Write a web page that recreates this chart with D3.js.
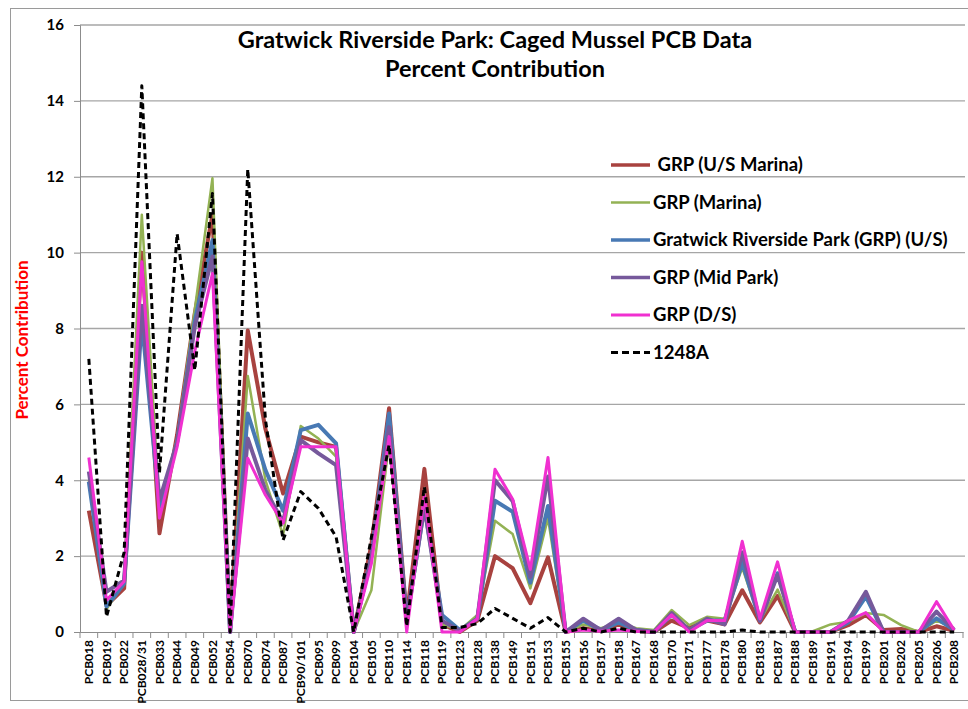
<!DOCTYPE html>
<html>
<head>
<meta charset="utf-8">
<script src="https://cdn.jsdelivr.net/npm/d3@7"></script>
<style>
  body { margin: 0; background: #fff; }
  text { font-family: Lato, "Liberation Sans", Arial, sans-serif; }
</style>
</head>
<body>
<svg></svg>
<script>
let width = 968, height = 709;

// congeners on the x axis
let pcbs = ["PCB018","PCB019","PCB022","PCB028/31","PCB033","PCB044","PCB049","PCB052","PCB054","PCB070",
    "PCB074","PCB087","PCB90/101","PCB095","PCB099","PCB104","PCB105","PCB110","PCB114","PCB118",
    "PCB119","PCB123","PCB128","PCB138","PCB149","PCB151","PCB153","PCB155","PCB156","PCB157",
    "PCB158","PCB167","PCB168","PCB170","PCB171","PCB177","PCB178","PCB180","PCB183","PCB187",
    "PCB188","PCB189","PCB191","PCB194","PCB199","PCB201","PCB202","PCB205","PCB206","PCB208"];

// percent contribution per station
let usMarina = [3.2,0.7,1.15,10.0,2.6,5.2,8.4,11.0,0.1,7.95,
    5.35,3.65,5.15,5.0,4.88,0,2.3,5.9,0.4,4.3,
    0.2,0,0.3,2.0,1.68,0.76,1.97,0,0.1,0.03,
    0.2,0.03,0,0.3,0.1,0.3,0.2,1.1,0.25,0.95,
    0,0,0,0.18,0.45,0.05,0.08,0,0.15,0.03];
let marina = [4.0,0.6,1.3,11.0,3.3,5.1,8.5,11.96,0,6.75,
    4.0,2.55,5.43,5.1,4.62,0,1.1,5.0,0.3,3.5,
    0.2,0.05,0.45,2.93,2.58,1.15,3.0,0,0.2,0.1,
    0.25,0.1,0.05,0.58,0.18,0.4,0.35,1.7,0.3,1.12,
    0,0.02,0.2,0.27,0.5,0.45,0.18,0,0.3,0.1];
let grpUS = [3.96,0.67,1.28,8.2,3.3,5.0,8.2,10.33,0,5.76,
    4.27,3.2,5.32,5.46,4.97,0,2.0,5.76,0.3,3.3,
    0.45,0.05,0.35,3.46,3.17,1.3,3.32,0,0.3,0.05,
    0.25,0.05,0,0.45,0.05,0.3,0.3,1.83,0.3,1.55,
    0,0,0,0.25,0.93,0,0,0,0.36,0.05];
let midPark = [4.23,1.06,1.36,8.6,3.48,5.0,8.05,9.9,0,5.1,
    3.74,2.9,5.06,4.71,4.4,0,2.0,5.4,0.3,3.3,
    0.3,0.03,0.35,4.0,3.45,1.45,4.1,0,0.35,0.05,
    0.35,0.05,0,0.5,0.05,0.35,0.2,2.1,0.3,1.5,
    0,0,0,0.3,1.06,0,0,0,0.54,0.05];
let ds = [4.6,0.84,1.33,9.76,3.0,4.88,7.4,9.45,0,4.58,
    3.61,2.87,4.88,4.88,4.88,0,1.8,5.15,0,3.6,
    0,0,0.35,4.29,3.5,1.65,4.6,0,0.05,0.02,
    0.05,0.02,0,0.45,0,0.3,0.3,2.39,0.35,1.85,
    0,0,0,0.3,0.51,0,0,0,0.8,0.05];
let aroclor1248 = [7.2,0.4,2.1,14.4,4.2,10.5,6.9,11.56,0,12.2,
    5.6,2.42,3.7,3.26,2.51,0,2.5,4.93,0.15,3.83,
    0.12,0.12,0.22,0.62,0.36,0.1,0.38,0,0.1,0,
    0.1,0,0,0,0,0,0,0.05,0,0,
    0,0,0,0,0,0,0,0,0,0];

let yTicks = [0,2,4,6,8,10,12,14,16];

let series = [
    {name: " GRP (U/S Marina)", values: usMarina, color: "#A8423F", width: 4},
    {name: "GRP (Marina)", values: marina, color: "#93B254", width: 2.5},
    {name: "Gratwick Riverside Park (GRP) (U/S)", values: grpUS, color: "#4879B4", width: 4},
    {name: "GRP (Mid Park)", values: midPark, color: "#76599B", width: 4},
    {name: "GRP (D/S)", values: ds, color: "#F030D0", width: 3},
    {name: "1248A", values: aroclor1248, color: "#000", width: 3, dash: "6,4"}
];

let svg = d3.select("svg")
    .attr("width", width)
    .attr("height", height);

// chart frame
svg.append("rect")
    .attr("x", 10.5).attr("y", 8.5)
    .attr("width", 970).attr("height", 692)
    .attr("fill", "none")
    .attr("stroke", "#9a9a9a");

let plot = {left: 80, right: 963, top: 25, bottom: 632};

let x = d3.scaleBand()
    .domain(pcbs)
    .range([plot.left, plot.right]);

let y = d3.scaleLinear()
    .domain([0, 16])
    .range([plot.bottom, plot.top]);

// gridlines
svg.append("g")
    .selectAll("line")
    .data(yTicks.filter(d => d > 0))
    .enter()
    .append("line")
    .attr("x1", plot.left).attr("x2", plot.right + 2)
    .attr("y1", d => y(d)).attr("y2", d => y(d))
    .attr("stroke", "#a6a6a6")
    .attr("stroke-width", 1.3);

// y axis
let yAxis = svg.append("g")
    .attr("transform", "translate(" + plot.left + ",0)")
    .call(d3.axisLeft(y).tickValues(yTicks).tickSize(6).tickPadding(10));
yAxis.select(".domain").attr("stroke", "#8c8c8c");
yAxis.selectAll(".tick line").attr("stroke", "#8c8c8c");
yAxis.selectAll(".tick text")
    .attr("font-family", "'DejaVu Sans', Verdana, sans-serif")
    .attr("font-weight", "bold")
    .attr("font-size", 15)
    .attr("fill", "#000");

// x axis
let xAxis = svg.append("g")
    .attr("transform", "translate(0," + plot.bottom + ")")
    .call(d3.axisBottom(x).tickSize(0).tickPadding(0));
xAxis.select(".domain").attr("stroke", "#8c8c8c");
xAxis.selectAll(".tick text")
    .attr("transform", "rotate(-90)")
    .attr("text-anchor", "end")
    .attr("x", -8)
    .attr("y", 0)
    .attr("dy", "0.35em")
    .attr("font-family", "'Liberation Sans', Arial, sans-serif")
    .attr("font-weight", "bold")
    .attr("font-size", 12)
    .attr("fill", "#000");

// tick marks between categories
svg.append("g")
    .selectAll("line")
    .data(pcbs.concat(["end"]))
    .enter()
    .append("line")
    .attr("x1", (d, i) => plot.left + i * x.bandwidth())
    .attr("x2", (d, i) => plot.left + i * x.bandwidth())
    .attr("y1", plot.bottom).attr("y2", plot.bottom + 6)
    .attr("stroke", "#8c8c8c");

// lines
let line = d3.line()
    .x((d, i) => x(pcbs[i]) + x.bandwidth() / 2)
    .y(d => y(d));

svg.append("g")
    .selectAll("path")
    .data(series)
    .enter()
    .append("path")
    .attr("d", d => line(d.values))
    .attr("fill", "none")
    .attr("stroke", d => d.color)
    .attr("stroke-width", d => d.width)
    .attr("stroke-linejoin", "round")
    .attr("stroke-dasharray", d => d.dash || null);

// titles
svg.append("text")
    .attr("x", 495).attr("y", 48)
    .attr("text-anchor", "middle")
    .attr("font-weight", "bold")
    .attr("font-size", 23.5)
    .text("Gratwick Riverside Park: Caged Mussel PCB Data");
svg.append("text")
    .attr("x", 495).attr("y", 77)
    .attr("text-anchor", "middle")
    .attr("font-weight", "bold")
    .attr("font-size", 23.5)
    .text("Percent Contribution");

svg.append("text")
    .attr("transform", "translate(28,340) rotate(-90)")
    .attr("text-anchor", "middle")
    .attr("font-weight", "bold")
    .attr("font-size", 17)
    .attr("fill", "#ff0000")
    .text("Percent Contribution");

// legend
let legend = svg.append("g")
    .selectAll("g")
    .data(series)
    .enter()
    .append("g")
    .attr("transform", (d, i) => "translate(611," + (165 + i * 37.5) + ")");

legend.append("line")
    .attr("x1", 0).attr("x2", 39)
    .attr("stroke", d => d.color)
    .attr("stroke-width", d => d.dash ? 3 : Math.min(d.width, 3.5))
    .attr("stroke-dasharray", d => d.dash ? "7,4" : null);

legend.append("text")
    .attr("x", 42)
    .attr("dy", "0.35em")
    .attr("font-weight", "bold")
    .attr("font-size", 18.5)
    .attr("xml:space", "preserve")
    .style("white-space", "pre")
    .text(d => d.name);
</script>
</body>
</html>
